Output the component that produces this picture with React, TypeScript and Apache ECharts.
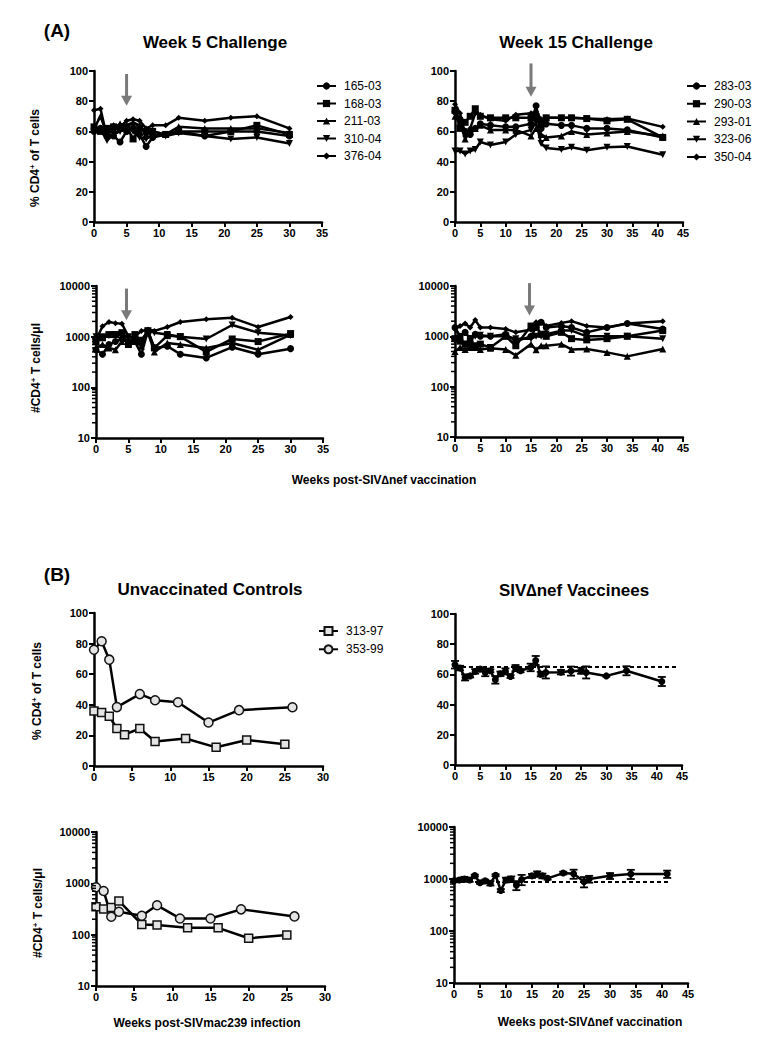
import React, { useEffect, useRef } from 'react';
import * as echarts from 'echarts';

const FONT = '"Liberation Sans", Arial, Helvetica, sans-serif';

// ---- Panel A: Week 5 challenge ----
const w5Weeks = [0, 1, 2, 3, 4, 5, 6, 7, 8, 9, 11, 13, 17, 21, 25, 30];
const w5Pct16503 = [60, 62, 58, 57, 53, 60, 62, 58, 50, 56, 58, 60, 57, 60, 60, 57];
const w5Pct16803 = [63, 60, 62, 63, 62, 63, 55, 62, 60, 60, 58, 60, 60, 60, 64, 58];
const w5Pct21103 = [62, 70, 58, 62, 65, 64, 66, 64, 58, 60, 58, 63, 62, 62, 62, 59];
const w5Pct31004 = [60, 61, 54, 58, 60, 62, 60, 56, 55, 58, 57, 59, 57, 55, 56, 52];
const w5Pct37604 = [74, 75, 56, 64, 63, 67, 68, 67, 62, 64, 64, 69, 67, 69, 70, 62];

const w5Cnt16503 = [550, 450, 700, 800, 900, 750, 800, 450, 1300, 600, 650, 450, 380, 620, 450, 580];
const w5Cnt16803 = [800, 950, 1100, 1100, 1200, 700, 1100, 800, 1300, 600, 1050, 1000, 500, 900, 800, 1150];
const w5Cnt21103 = [600, 700, 600, 550, 800, 900, 800, 650, 1200, 500, 750, 700, 600, 750, 550, 1100];
const w5Cnt31004 = [1000, 1000, 1050, 1100, 1050, 1000, 950, 850, 1300, 1200, 1100, 1000, 900, 1700, 1200, 1050];
const w5Cnt37604 = [850, 1600, 1950, 1850, 1800, 1000, 1000, 1300, 1370, 1300, 1550, 1950, 2200, 2350, 1550, 2450];

// ---- Panel A: Week 15 challenge ----
const w15Weeks = [0, 1, 2, 3, 4, 5, 7, 10, 12, 15, 16, 17, 18, 21, 23, 26, 30, 34, 41];
const w15Pct28303 = [73, 68, 60, 58, 62, 65, 64, 63, 63, 65, 77, 62, 65, 64, 64, 62, 62, 61, 56];
const w15Pct29003 = [74, 62, 66, 70, 75, 70, 69, 69, 69, 69, 70, 65, 69, 69, 69, 68.5, 67, 68, 56];
const w15Pct29301 = [70, 66, 55, 60, 62, 64, 61, 61, 61, 57, 62, 58, 56, 57, 60, 58, 59, 60, 57];
const w15Pct32306 = [47, 47, 45, 47, 48, 53, 51, 53, 58, 61, 66, 52, 49, 48, 49.5, 47.5, 49.5, 50, 44.5];
const w15Pct35004 = [78, 72, 57, 62, 72, 71, 68, 67, 71, 72, 73, 68, 69, 69, 69, 68.5, 68, 68.5, 63];

const w15Cnt28303 = [1500, 1000, 1200, 900, 1100, 1000, 1000, 1100, 800, 1000, 1500, 1900, 1500, 1600, 1500, 1200, 1500, 1800, 1400];
const w15Cnt29003 = [900, 800, 700, 700, 650, 700, 600, 1000, 650, 1600, 1600, 1100, 1000, 1200, 900, 850, 900, 1000, 1300];
const w15Cnt29301 = [500, 600, 550, 600, 600, 550, 580, 550, 420, 700, 540, 650, 650, 700, 550, 560, 480, 400, 560];
const w15Cnt32306 = [800, 900, 700, 900, 1000, 1050, 1000, 1000, 900, 900, 1000, 1000, 1100, 1300, 1300, 1000, 1000, 1000, 900];
const w15Cnt35004 = [1400, 1600, 1800, 1500, 2100, 1500, 1500, 1400, 1200, 1350, 1900, 1950, 1600, 1850, 2000, 1600, 1500, 1800, 2000];

// ---- Panel B: Unvaccinated controls ----
const c313PctWeeks = [0, 1, 2, 3, 4, 6, 8, 12, 16, 20, 25];
const c313Pct = [36, 35, 32.5, 24.5, 20.5, 24.5, 16, 18, 12.2, 17, 14.2];
const c353PctWeeks = [0, 1, 2, 3, 6, 8, 11, 15, 19, 26];
const c353Pct = [76, 81.5, 69.5, 38.5, 47, 43, 41.7, 28.4, 36.5, 38.4];
const c313CntWeeks = [0, 1, 2, 3, 6, 8, 12, 16, 20, 25];
const c313Cnt = [350, 316, 340, 453, 158, 155, 136, 136, 85, 98];
const c353CntWeeks = [0, 1, 2, 3, 6, 8, 11, 15, 19, 26];
const c353Cnt = [840, 711, 224, 280, 234, 373, 207, 207, 311, 227];

// ---- Panel B: SIVdeltanef vaccinees (mean ± SEM) ----
const vWeeks = [0, 1, 2, 3, 4, 5, 6, 7, 8, 9, 10, 11, 12, 13, 15, 16, 17, 18, 21, 23, 25, 26, 30, 34, 41];
const vPctMean = [66.4, 64.2, 58, 59, 62, 63.5, 61.3, 62.4, 56.4, 60.4, 62, 58.6, 64.2, 62.4, 64.6, 69.2, 60.2, 61.3, 61.5, 62.2, 62.4, 61.3, 59, 62.4, 55.3];
const vPctErr = [2.5, 1.5, 2, 1, 1.5, 1, 2.5, 1, 2.5, 1.5, 2, 1, 2, 1, 2.5, 3, 1.5, 4, 1.5, 3, 2, 4, 0.5, 3, 3];
const vCntMean = [920, 960, 1000, 960, 1160, 850, 920, 830, 1180, 600, 960, 1000, 760, 980, 1150, 1250, 1150, 1030, 1300, 1260, 890, 1000, 1150, 1250, 1250];
const vCntErr = [50, 60, 100, 80, 50, 40, 50, 80, 50, 40, 100, 120, 150, 220, 100, 150, 120, 60, 80, 250, 200, 150, 150, 250, 200];
const vPctBaseline = 65.3;
const vCntBaseline = 900;
const vPctBaselineEnd = 44;
const vCntBaselineEnd = 41.6;

// Challenge arrows: panel index, week, start value, tip value
const arrowGrid = [0, 1, 2, 3];
const arrowWeek = [5, 15, 4.7, 14.7];
const arrowFrom = [98, 105, 8900, 11400];
const arrowTo = [77, 83, 2100, 2600];

const logMinorTicks = [20, 30, 40, 50, 60, 70, 80, 90, 200, 300, 400, 500, 600, 700, 800, 900, 2000, 3000, 4000, 5000, 6000, 7000, 8000, 9000];

const TRI_DOWN = 'path://M0,0 L10,0 L5,9 Z';

const grids = [
  { left: 94, top: 71, width: 228, height: 151 },
  { left: 455, top: 71, width: 228, height: 151 },
  { left: 96, top: 286, width: 227, height: 152 },
  { left: 455, top: 286, width: 228, height: 151 },
  { left: 94, top: 613, width: 229, height: 153 },
  { left: 455, top: 614, width: 227, height: 151 },
  { left: 96, top: 832, width: 229, height: 154 },
  { left: 454, top: 827, width: 234, height: 156 },
];
const xMax = [35, 45, 35, 45, 30, 45, 30, 45];
const isLog = [false, false, true, true, false, false, true, true];

function pairs(xs: number[], ys: number[]) {
  return xs.map((x, i) => [x, ys[i]]);
}

function lineSeries(name: string, gi: number, xs: number[], ys: number[], symbol: string, size: number, extra: any = {}) {
  return {
    type: 'line',
    name,
    xAxisIndex: gi,
    yAxisIndex: gi,
    data: pairs(xs, ys),
    symbol,
    symbolSize: size,
    lineStyle: { color: '#000', width: 2.5 },
    itemStyle: { color: '#000' },
    emphasis: { disabled: true },
    silent: true,
    z: 3,
    ...extra,
  };
}

function dashedMark(y: number, xEnd: number) {
  return {
    silent: true,
    symbol: ['none', 'none'],
    label: { show: false },
    lineStyle: { color: '#000', width: 2, type: [4, 3] },
    emphasis: { disabled: true },
    data: [[{ coord: [0, y] }, { coord: [xEnd, y] }]],
  };
}

function minorTickSeries(gi: number) {
  return {
    type: 'custom',
    xAxisIndex: gi,
    yAxisIndex: gi,
    silent: true,
    z: 5,
    data: logMinorTicks.map((v) => [0, v]),
    renderItem: (params: any, api: any) => {
      const p = api.coord([0, api.value(1)]);
      return {
        type: 'line',
        shape: { x1: p[0] - 4, y1: p[1], x2: p[0], y2: p[1] },
        style: { stroke: '#000', lineWidth: 1.5 },
      };
    },
  };
}

function errorBarSeries(gi: number, xs: number[], means: number[], errs: number[]) {
  return {
    type: 'custom',
    xAxisIndex: gi,
    yAxisIndex: gi,
    silent: true,
    z: 4,
    data: xs.map((x, i) => [x, means[i], errs[i]]),
    renderItem: (params: any, api: any) => {
      const x = api.value(0);
      const m = api.value(1);
      const e = api.value(2);
      const top = api.coord([x, m + e]);
      const bot = api.coord([x, m - e]);
      const cw = 4;
      const st = { stroke: '#000', lineWidth: 1.8 };
      return {
        type: 'group',
        children: [
          { type: 'line', shape: { x1: top[0], y1: top[1], x2: bot[0], y2: bot[1] }, style: st },
          { type: 'line', shape: { x1: top[0] - cw, y1: top[1], x2: top[0] + cw, y2: top[1] }, style: st },
          { type: 'line', shape: { x1: bot[0] - cw, y1: bot[1], x2: bot[0] + cw, y2: bot[1] }, style: st },
        ],
      };
    },
  };
}

function textGraphics() {
  const t = (text: string, x: number, y: number, size: number, weight = 'bold') => ({
    type: 'text',
    x,
    y,
    silent: true,
    style: {
      text,
      fontFamily: FONT,
      fontSize: size,
      fontWeight: weight,
      fill: '#000',
      align: 'center',
      verticalAlign: 'middle',
    },
  });

  const rt = (text: string, x: number, y: number) => ({
    type: 'text',
    x,
    y,
    rotation: Math.PI / 2,
    silent: true,
    style: {
      text,
      fontFamily: FONT,
      fontSize: 12,
      fontWeight: 'bold',
      fill: '#000',
      align: 'center',
      verticalAlign: 'middle',
      lineHeight: 14,
      rich: {
        sup: { fontFamily: FONT, fontSize: 8, fontWeight: 'bold', fill: '#000', verticalAlign: 'top', lineHeight: 14, padding: [0, 0, 5, 0] },
      },
    },
  });

  return [
    t('(A)', 57, 30, 19),
    t('Week 5 Challenge', 215, 42, 17),
    t('Week 15 Challenge', 576, 42, 17),
    rt('% CD4{sup|+} of T cells', 35, 158),
    rt('#CD4{sup|+} T cells/\u03bcl', 36, 368),
    t('Weeks post-SIV\u2206nef vaccination', 384, 480, 12),
    t('(B)', 57, 574, 19),
    t('Unvaccinated Controls', 210, 589, 17),
    t('SIV\u2206nef Vaccinees', 574, 590, 17),
    rt('% CD4{sup|+} of T cells', 37, 691),
    rt('#CD4{sup|+} T cells/\u03bcl', 38, 913),
    t('Weeks post-SIVmac239 infection', 207, 1023, 12),
    t('Weeks post-SIV\u2206nef vaccination', 590, 1022, 12),
  ];
}

function buildOption() {
  const axisLine = { show: true, onZero: false, lineStyle: { color: '#000', width: 2.5 } };
  const axisTick = { show: true, length: 5, lineStyle: { color: '#000', width: 2 } };
  const labelStyle = { color: '#000', fontFamily: FONT, fontWeight: 'bold', fontSize: 11 };

  const xAxis = grids.map((g, gi) => ({
    gridIndex: gi,
    type: 'value',
    min: 0,
    max: xMax[gi],
    interval: 5,
    axisLine,
    axisTick,
    axisLabel: { ...labelStyle, margin: 5 },
    splitLine: { show: false },
  }));

  const yAxis = grids.map((g, gi) =>
    isLog[gi]
      ? {
          gridIndex: gi,
          type: 'log',
          logBase: 10,
          min: 10,
          max: 10000,
          axisLine,
          axisTick,
          axisLabel: { ...labelStyle, margin: 6, formatter: (v: number) => String(Math.round(v)) },
          splitLine: { show: false },
        }
      : {
          gridIndex: gi,
          type: 'value',
          min: 0,
          max: 100,
          interval: 20,
          axisLine,
          axisTick,
          axisLabel: { ...labelStyle, margin: 6 },
          splitLine: { show: false },
        }
  );

  const hollow = { color: '#e4e4e4', borderColor: '#111', borderWidth: 1.5 };

  const series: any[] = [
    // Week 5 %
    lineSeries('165-03', 0, w5Weeks, w5Pct16503, 'circle', 7),
    lineSeries('168-03', 0, w5Weeks, w5Pct16803, 'rect', 7),
    lineSeries('211-03', 0, w5Weeks, w5Pct21103, 'triangle', 7),
    lineSeries('310-04', 0, w5Weeks, w5Pct31004, TRI_DOWN, 7),
    lineSeries('376-04', 0, w5Weeks, w5Pct37604, 'diamond', 6),
    // Week 15 %
    lineSeries('283-03', 1, w15Weeks, w15Pct28303, 'circle', 7),
    lineSeries('290-03', 1, w15Weeks, w15Pct29003, 'rect', 7),
    lineSeries('293-01', 1, w15Weeks, w15Pct29301, 'triangle', 7),
    lineSeries('323-06', 1, w15Weeks, w15Pct32306, TRI_DOWN, 7),
    lineSeries('350-04', 1, w15Weeks, w15Pct35004, 'diamond', 6),
    // Week 5 counts
    lineSeries('165-03 n', 2, w5Weeks, w5Cnt16503, 'circle', 7),
    lineSeries('168-03 n', 2, w5Weeks, w5Cnt16803, 'rect', 7),
    lineSeries('211-03 n', 2, w5Weeks, w5Cnt21103, 'triangle', 7),
    lineSeries('310-04 n', 2, w5Weeks, w5Cnt31004, TRI_DOWN, 7),
    lineSeries('376-04 n', 2, w5Weeks, w5Cnt37604, 'diamond', 6),
    minorTickSeries(2),
    // Week 15 counts
    lineSeries('283-03 n', 3, w15Weeks, w15Cnt28303, 'circle', 7),
    lineSeries('290-03 n', 3, w15Weeks, w15Cnt29003, 'rect', 7),
    lineSeries('293-01 n', 3, w15Weeks, w15Cnt29301, 'triangle', 7),
    lineSeries('323-06 n', 3, w15Weeks, w15Cnt32306, TRI_DOWN, 7),
    lineSeries('350-04 n', 3, w15Weeks, w15Cnt35004, 'diamond', 6),
    minorTickSeries(3),
    // Controls %
    lineSeries('313-97', 4, c313PctWeeks, c313Pct, 'rect', 8, { itemStyle: hollow }),
    lineSeries('353-99', 4, c353PctWeeks, c353Pct, 'circle', 9, { itemStyle: hollow }),
    // Vaccinees %
    lineSeries('Vaccinees %', 5, vWeeks, vPctMean, 'circle', 7, { markLine: dashedMark(vPctBaseline, vPctBaselineEnd) }),
    errorBarSeries(5, vWeeks, vPctMean, vPctErr),
    // Controls counts
    lineSeries('313-97 n', 6, c313CntWeeks, c313Cnt, 'rect', 8, { itemStyle: hollow }),
    lineSeries('353-99 n', 6, c353CntWeeks, c353Cnt, 'circle', 9, { itemStyle: hollow }),
    minorTickSeries(6),
    // Vaccinees counts
    lineSeries('Vaccinees n', 7, vWeeks, vCntMean, 'circle', 7, { markLine: dashedMark(vCntBaseline, vCntBaselineEnd) }),
    errorBarSeries(7, vWeeks, vCntMean, vCntErr),
    minorTickSeries(7),
  ];

  const legendBase = {
    orient: 'vertical',
    itemWidth: 19,
    itemHeight: 9,
    selectedMode: false,
    textStyle: { fontFamily: FONT, fontSize: 12, color: '#000', lineHeight: 12, padding: [0, 0, 0, 3] },
  };

  const legend = [
    { ...legendBase, left: 311, top: 75, itemGap: 5.5, data: ['165-03', '168-03', '211-03', '310-04', '376-04'] },
    { ...legendBase, left: 681, top: 75, itemGap: 5.75, data: ['283-03', '290-03', '293-01', '323-06', '350-04'] },
    { ...legendBase, left: 313, top: 620, itemGap: 6.3, itemHeight: 10, data: ['313-97', '353-99'] },
  ];

  return {
    animation: false,
    backgroundColor: '#fff',
    grid: grids.map((g) => ({ ...g, containLabel: false, outerBoundsMode: 'none' })),
    xAxis,
    yAxis,
    legend,
    series,
    graphic: textGraphics(),
  };
}

export default function App() {
  const ref = useRef<HTMLDivElement>(null);
  useEffect(() => {
    if (!ref.current) return;
    const chart = echarts.init(ref.current, undefined, { renderer: 'svg' });
    chart.setOption(buildOption() as any);
    // challenge arrows, positioned through each panel's own axes
    const arrowEls: any[] = [];
    arrowGrid.forEach((gi, i) => {
      const p1 = chart.convertToPixel({ gridIndex: gi }, [arrowWeek[i], arrowFrom[i]]) as number[];
      const p2 = chart.convertToPixel({ gridIndex: gi }, [arrowWeek[i], arrowTo[i]]) as number[];
      if (!p1 || !p2) return;
      const hw = 5.5;
      const hh = 10;
      arrowEls.push({
        type: 'line',
        silent: true,
        shape: { x1: p1[0], y1: p1[1], x2: p2[0], y2: p2[1] - hh + 1 },
        style: { stroke: '#7a7a7a', lineWidth: 3 },
        z: 10,
      });
      arrowEls.push({
        type: 'polygon',
        silent: true,
        shape: { points: [[p2[0] - hw, p2[1] - hh], [p2[0] + hw, p2[1] - hh], [p2[0], p2[1]]] },
        style: { fill: '#7a7a7a' },
        z: 10,
      });
    });
    chart.setOption({ graphic: [...textGraphics(), ...arrowEls] } as any);
    return () => chart.dispose();
  }, []);
  return (
    <div
      ref={ref}
      style={{ position: 'absolute', left: 0, top: 0, width: 768, height: 1050, background: '#fff' }}
    />
  );
}
